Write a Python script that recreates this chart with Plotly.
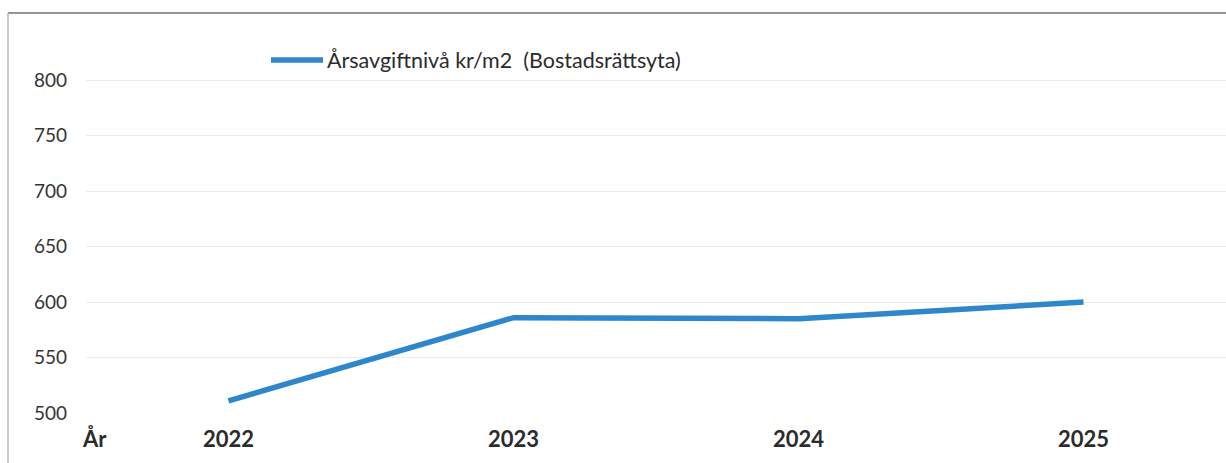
import plotly.graph_objects as go

years = ["2022", "2023", "2024", "2025"]
values = [511, 586, 585, 600]
series_name = "Årsavgiftnivå kr/m2  (Bostadsrättsyta)"
y_ticks = [500, 550, 600, 650, 700, 750, 800]
line_color = "#2F87CB"

W, H = 1226, 463
L, R, T, B = 86, 0, 36, 50
pw = W - L - R
ph = H - T - B

def px(x):
    return (x - L) / pw

def py(y):
    return (H - B - y) / ph

fig = go.Figure()
fig.add_trace(go.Scatter(
    x=years, y=values, mode="lines", name=series_name,
    line=dict(color=line_color, width=5.5),
))

fig.update_layout(
    width=W, height=H,
    margin=dict(l=L, r=R, t=T, b=B),
    paper_bgcolor="white", plot_bgcolor="white",
    font=dict(family="Lato, Open Sans, sans-serif", color="#333333"),
    showlegend=False,
    xaxis=dict(type="category", range=[-0.5, 3.5], showgrid=False,
               showline=False, zeroline=False,
               tickfont=dict(size=22, color="#2b2b2b", family="Lato, sans-serif"),
               ticklabelstandoff=11),
    yaxis=dict(range=[500, 840], tickvals=y_ticks, showgrid=True,
               gridcolor="#ebebeb", gridwidth=1, zeroline=False, showline=False,
               tickfont=dict(size=19, color="#333333"),
               ticklabelstandoff=18),
    shapes=[
        dict(type="line", xref="paper", yref="paper", x0=px(8), x1=px(1226),
             y0=py(13), y1=py(13), line=dict(color="#8f9696", width=2)),
        dict(type="line", xref="paper", yref="paper", x0=px(8), x1=px(8),
             y0=py(13), y1=py(463), line=dict(color="#b5b9b9", width=1.5)),
        # legend sample line
        dict(type="line", xref="paper", yref="paper", x0=px(271), x1=px(323),
             y0=py(60), y1=py(60), line=dict(color=line_color, width=5.5)),
    ],
    annotations=[
        dict(text="<b>År</b>", xref="paper", yref="paper", x=px(94), y=py(438),
             xanchor="center", yanchor="middle", showarrow=False,
             font=dict(size=22, color="#2b2b2b")),
        dict(text=series_name, xref="paper", yref="paper", x=px(325), y=py(60),
             xanchor="left", yanchor="middle", showarrow=False,
             font=dict(size=21.5, color="#2b2b2b")),
    ],
)
fig.update_xaxes(tickprefix="<b>", ticksuffix="</b>")

fig.write_html("out.html")
